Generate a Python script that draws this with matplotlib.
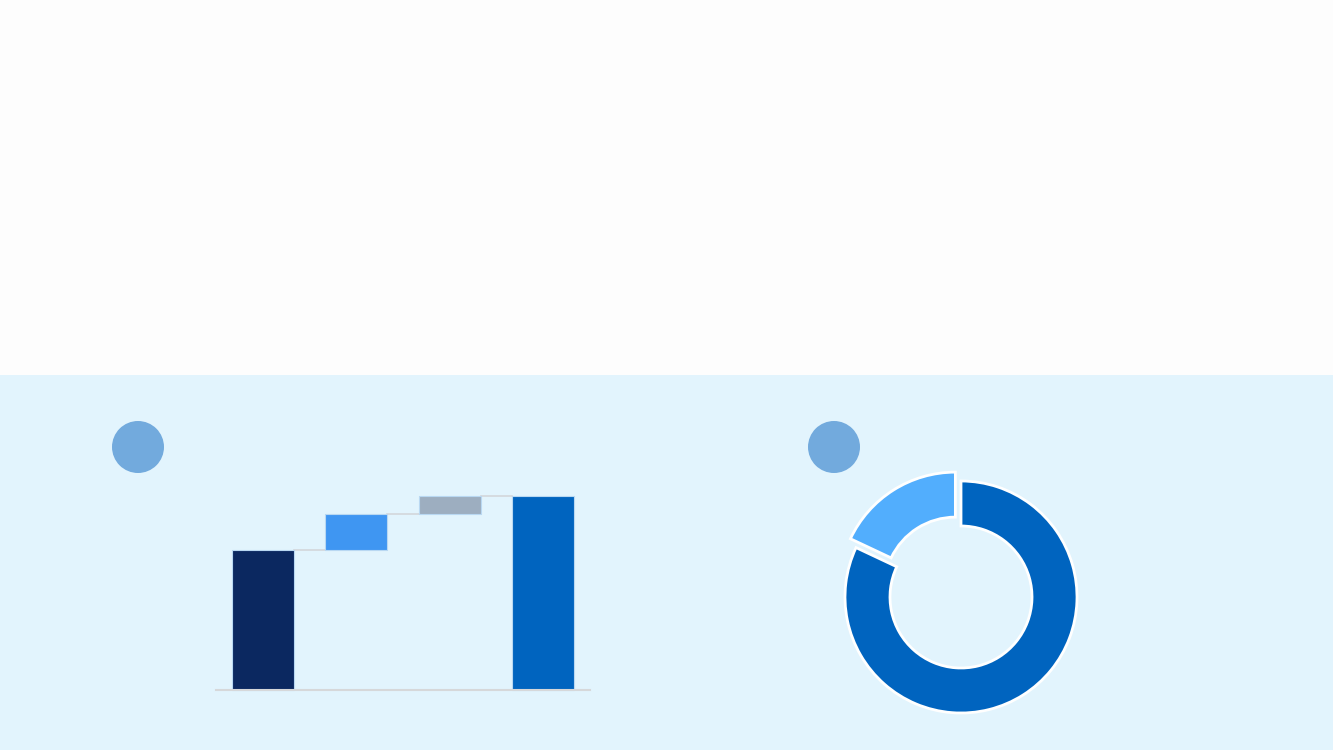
import matplotlib
matplotlib.use("Agg")
import matplotlib.pyplot as plt
from matplotlib.patches import Rectangle, Circle

# --- data ---
wf_labels = ["Start", "Step A", "Step B", "Total"]
wf_values = [72, 18.5, 9.5]          # start value, then increments
wf_colors = ["#0B2860", "#3F96F2", "#9DAEC0", "#0064BF"]
donut_values = [82, 18]
donut_colors = ["#0064BF", "#52AEFD"]

BG_TOP = "#FDFDFD"
BG_BOTTOM = "#E2F4FD"
MARKER = "#72AADD"

fig = plt.figure(figsize=(13.33, 7.5), dpi=100)
fig.patch.set_facecolor(BG_TOP)

# background layer in pixel coordinates
bg = fig.add_axes([0, 0, 1, 1])
bg.set_xlim(0, 1333)
bg.set_ylim(750, 0)
bg.axis("off")
bg.add_patch(Rectangle((0, 375), 1333, 375, color=BG_BOTTOM, lw=0))
for cx in (138, 834):
    bg.add_patch(Circle((cx, 447), 26, color=MARKER, lw=0))

# --- waterfall ---
ax = fig.add_axes([216 / 1333, 60 / 750, 374 / 1333, 194 / 750])
ax.patch.set_alpha(0)
total = sum(wf_values)
bottoms = [0]
heights = [wf_values[0]]
run = wf_values[0]
for v in wf_values[1:]:
    bottoms.append(run)
    heights.append(v)
    run += v
bottoms.append(0)
heights.append(total)
xs = range(len(wf_labels))
w = 0.665
bars = ax.bar(xs, heights, bottom=bottoms, width=w, color=wf_colors,
              edgecolor="#B9D8F2", linewidth=0.8, zorder=3)
for b in bars:
    b.set_clip_on(False)
# connectors
tops = [b + h for b, h in zip(bottoms, heights)]
for i in range(len(tops) - 1):
    ax.plot([i + w / 2, i + 1 - w / 2], [tops[i], tops[i]], color="#D3D7DB",
            lw=1.2, zorder=2, clip_on=False)
ax.axhline(0, color="#D6D8DA", lw=1.5, zorder=4, clip_on=False)
ax.set_xlim(-0.5, len(wf_labels) - 0.5)
ax.set_ylim(0, total)
ax.axis("off")

# --- donut ---
dax = fig.add_axes([(961 - 150) / 1333, (750 - 597 - 150) / 750, 300 / 1333, 300 / 750])
dax.patch.set_alpha(0)
r = 116 / 150
dax.pie(donut_values, colors=donut_colors, startangle=90, counterclock=False,
        radius=r, explode=[0, 0.07],
        wedgeprops=dict(width=45 / 150, edgecolor="white", linewidth=2))
dax.set_xlim(-1, 1)
dax.set_ylim(-1, 1)
dax.set_aspect("equal")

fig.savefig("out.png", dpi=100, facecolor=fig.get_facecolor())
